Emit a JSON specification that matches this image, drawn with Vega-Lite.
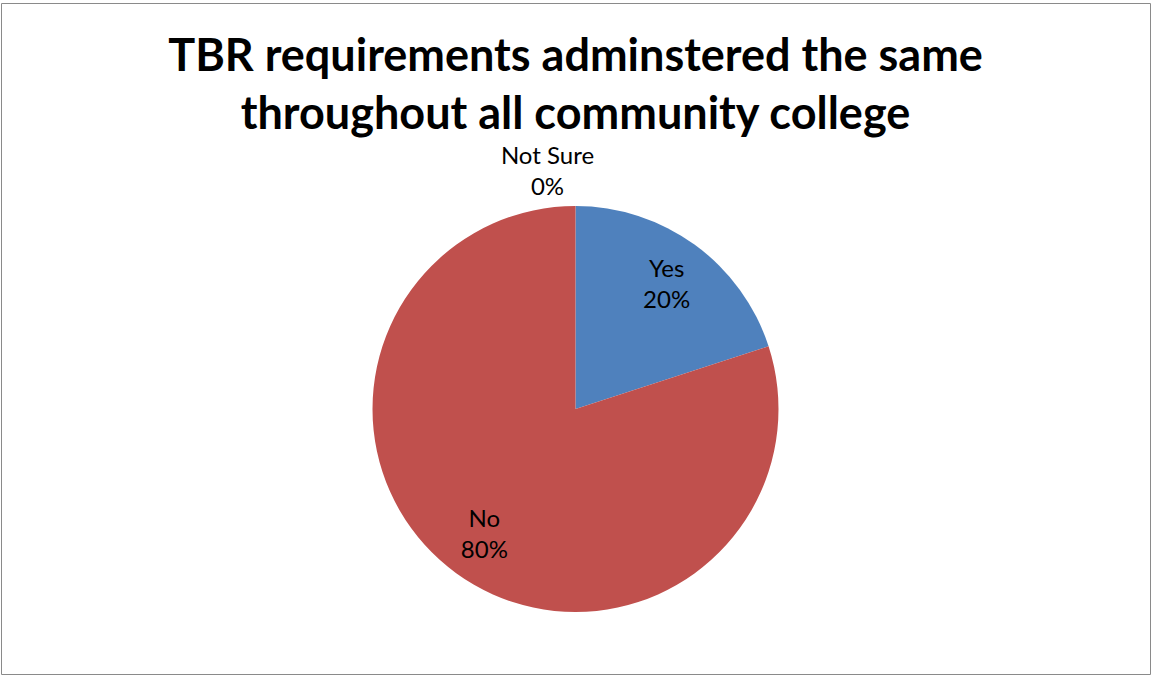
{
  "$schema": "https://vega.github.io/schema/vega-lite/v6.json",
  "autosize": "none",
  "padding": {"left": 1, "top": 3, "right": 1, "bottom": 1},
  "width": 1149,
  "height": 671,
  "background": "white",
  "view": {"stroke": "#8a8a8a", "strokeWidth": 1, "fill": "white"},
  "config": {
    "view": {"stroke": "#8a8a8a", "strokeWidth": 1},
    "font": "Lato"
  },
  "title": {
    "text": ["TBR requirements adminstered the same", "throughout all community college"],
    "font": "Lato",
    "fontSize": 45,
    "fontWeight": "bold",
    "color": "#000000",
    "anchor": "middle",
    "frame": "group",
    "baseline": "alphabetic",
    "lineHeight": 58,
    "offset": -171
  },
  "data": {
    "values": [
      {"category": "Yes", "share": 0.2, "rank": 1},
      {"category": "No", "share": 0.8, "rank": 2},
      {"category": "Not Sure", "share": 0.0, "rank": 3}
    ]
  },
  "transform": [
    {"calculate": "[datum.category, format(datum.share, '.0%')]", "as": "label"}
  ],
  "encoding": {
    "theta": {"field": "share", "type": "quantitative", "stack": true},
    "order": {"field": "rank", "type": "quantitative"}
  },
  "layer": [
    {
      "mark": {"type": "arc", "outerRadius": 203, "yOffset": 70.5, "stroke": null},
      "encoding": {
        "color": {
          "field": "category",
          "type": "nominal",
          "scale": {"domain": ["Yes", "No", "Not Sure"], "range": ["#4F81BD", "#C0504D", "#9BBB59"]},
          "legend": null
        }
      }
    },
    {
      "transform": [{"filter": "datum.category != 'Not Sure'"}],
      "mark": {"type": "text", "radius": 155, "yOffset": 70.5, "dy": -14, "fontSize": 24, "lineHeight": 31, "color": "#000000", "align": "center", "baseline": "middle"},
      "encoding": {"text": {"field": "label"}}
    },
    {
      "transform": [{"filter": "datum.category == 'Not Sure'"}],
      "mark": {"type": "text", "radius": 252, "yOffset": 70.5, "dx": -28, "fontSize": 24, "lineHeight": 31, "color": "#000000", "align": "center", "baseline": "middle"},
      "encoding": {"text": {"field": "label"}}
    }
  ]
}
